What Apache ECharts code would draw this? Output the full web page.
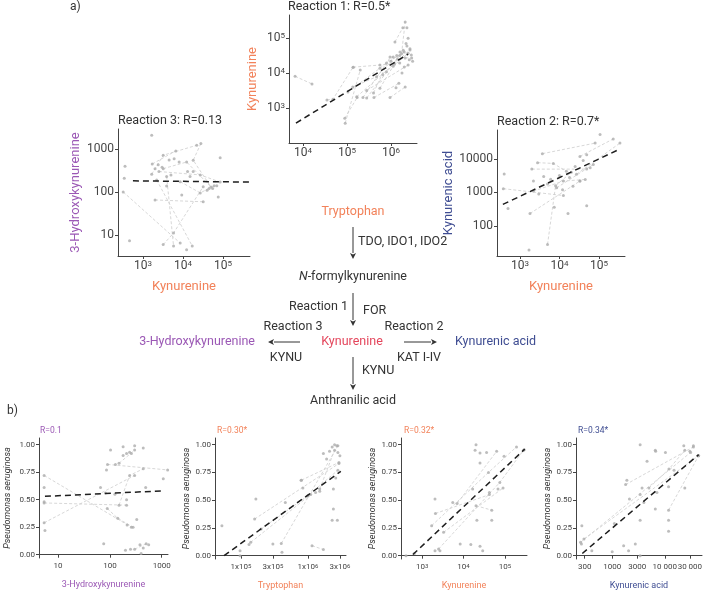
<!DOCTYPE html>
<html>
<head>
<meta charset="utf-8">
<script src="https://cdn.jsdelivr.net/npm/echarts@6/dist/echarts.min.js"></script>
<style>
  html, body { margin: 0; padding: 0; background: #fff; }
  #chart { width: 705px; height: 591px; }
</style>
</head>
<body>
<div id="chart"></div>
<script>
// ---- data (raw concentrations, P. aeruginosa fraction) ----
// Reaction 1: x = tryptophan, y = kynurenine
const r1Links = [
  [[6600, 8100], [16000, 4900]],
  [[91000, 370], [200000, 12300]],
  [[89000, 510], [170000, 2000]],
  [[35000, 1700], [48000, 1800], [138000, 14800]],
  [[135000, 4000], [470000, 7900], [1350000, 32000]],
  [[105000, 2900], [560000, 13800], [1120000, 29000]],
  [[280000, 1950], [1580000, 32000]],
  [[410000, 2000], [1510000, 5100]],
  [[230000, 2000], [790000, 19500], [2000000, 40000]],
  [[950000, 2000], [2100000, 4000]],
  [[1740000, 36000], [2100000, 290000]],
  [[1230000, 78000], [1860000, 200000], [2300000, 200000]],
  [[166000, 2100], [2700000, 46000]],
  [[560000, 3700], [1120000, 15800], [2450000, 37000]],
  [[400000, 2700], [950000, 29000], [2950000, 27000]],
  [[138000, 14800], [560000, 17000], [1580000, 19500]],
  [[280000, 3200], [2450000, 17000]]
];
const r1Dots = [
  [2450000, 100000], [2100000, 27000], [2700000, 50000], [1000000, 22000], [1400000, 25000],
  [790000, 11000], [1780000, 10000], [2300000, 60000], [1900000, 45000], [2900000, 33000],
  [3100000, 22000], [1600000, 40000], [2200000, 70000], [1200000, 18000], [650000, 9000],
  [2600000, 24000], [1300000, 3800], [2000000, 15000]
];
const r1Fit = [[6900, 370], [2450000, 35000]];

// Reaction 3: x = kynurenine, y = 3-hydroxykynurenine
const r3Links = [
  [[320, 100], [8500, 6.4]],
  [[3200, 5.9], [5800, 11], [32000, 133]],
  [[3900, 230], [5800, 5.5]],
  [[2200, 190], [17000, 5.5]],
  [[1650, 260], [3200, 720], [22000, 1230]],
  [[2000, 65], [32000, 59]],
  [[3200, 350], [12300, 500], [55000, 120]],
  [[1700, 450], [6600, 910]],
  [[8500, 174], [27000, 95], [60000, 140]],
  [[28000, 1350], [18000, 550], [50000, 130]],
  [[2500, 300], [27000, 250], [85000, 170]]
];
const r3Dots = [
  [355, 400], [340, 210], [460, 7.3], [1650, 2100], [85000, 630], [76000, 76], [9300, 85],
  [40000, 110], [45000, 120], [70000, 140], [4500, 560], [8000, 500], [2400, 430], [3000, 380],
  [13000, 300], [18000, 300], [5000, 250], [3900, 138], [15000, 230], [12300, 4.5], [6000, 600],
  [2000, 350]
];
const r3Fit = [[560, 182], [470000, 170]];

// Reaction 2: x = kynurenine, y = kynurenic acid
const r2Links = [
  [[3700, 14500], [80000, 30000]],
  [[2000, 5000], [49000, 5000]],
  [[380, 1300], [12600, 810]],
  [[5000, 28], [8000, 1600], [20000, 4000]],
  [[1800, 235], [33000, 2200]],
  [[33000, 12000], [230000, 40000]],
  [[27000, 3500], [340000, 30000]],
  [[2800, 7800], [7000, 7400], [15000, 4300]],
  [[2200, 1100], [12600, 2200], [45000, 2450]],
  [[8500, 1380], [72000, 6900]]
];
const r2Dots = [
  [400, 3600], [500, 330], [1700, 19], [7400, 360], [16500, 235], [49000, 400], [107000, 54000],
  [2200, 2200], [22000, 1550], [49000, 13500], [33000, 2200], [4000, 3000], [6000, 2500],
  [10000, 3200], [18000, 2800], [25000, 6000], [40000, 9000], [3000, 900], [5000, 1800],
  [12000, 1200], [60000, 5500]
];
const r2Fit = [[370, 440], [340000, 20000]];

// b) x = metabolite, y = P. aeruginosa
const b1Links = [
  [[5.4, 0.72], [260, 0.25]],
  [[5.4, 0.29], [300, 0.72]],
  [[5.4, 0.47], [210, 0.45]],
  [[90, 0.82], [1300, 0.77]],
  [[150, 0.45], [240, 0.72], [440, 0.78]],
  [[89, 0.42], [142, 0.33], [280, 0.25]],
  [[300, 0.05], [500, 0.1]],
  [[150, 0.83], [300, 0.95]]
];
const b1Dots = [
  [5.4, 0.61], [5.4, 0.48], [5.6, 0.22], [76, 0.10], [66, 0.61], [82, 0.56], [86, 0.77], [103, 0.95],
  [128, 0.82], [180, 0.98], [180, 0.90], [210, 0.92], [240, 0.93], [260, 0.92], [300, 0.99], [440, 0.97],
  [210, 0.50], [1070, 0.69], [490, 0.61], [215, 0.27], [200, 0.04], [250, 0.05], [380, 0.09],
  [400, 0.01], [440, 0.06], [560, 0.09], [330, 0.32], [125, 0.55]
];
const b1Fit = [[5.6, 0.53], [1050, 0.58]];

const b2Links = [
  [[160000, 0.33], [2900000, 0.83]],
  [[400000, 0.11], [2800000, 0.99]],
  [[140000, 0.12], [1100000, 0.55]],
  [[800000, 0.68], [2900000, 0.84]],
  [[200000, 0.24], [1000000, 0.54], [2800000, 0.77]],
  [[1150000, 0.09], [1700000, 0.055]],
  [[1500000, 0.6], [2500000, 0.95]]
];
const b2Dots = [
  [52000, 0.27], [97000, 0.045], [97000, 0.0], [132000, 0.10], [167000, 0.51], [300000, 0.105],
  [410000, 0.03], [460000, 0.48], [790000, 0.68], [840000, 0.61], [1000000, 0.54], [1300000, 0.57],
  [1500000, 0.58], [1700000, 0.92], [1900000, 0.87], [2100000, 0.94], [2300000, 0.98], [2500000, 1.0],
  [2700000, 0.99], [2800000, 0.93], [3000000, 0.90], [2400000, 0.60], [2400000, 0.42], [2300000, 0.32],
  [2750000, 0.32], [2600000, 0.70]
];
const b2Fit = [[56000, 0.0], [3100000, 0.76]];

const b3Links = [
  [[2100, 0.38], [42000, 0.55]],
  [[1700, 0.27], [40000, 0.75], [190000, 0.98]],
  [[2500, 0.06], [75000, 0.66], [280000, 0.95]],
  [[3300, 0.21], [90000, 0.61]],
  [[7000, 0.47], [63000, 0.94]],
  [[20000, 0.45], [48000, 0.41]]
];
const b3Dots = [
  [410, 0.0], [650, 0.02], [2050, 0.045], [2700, 0.045], [2050, 0.51], [5500, 0.48], [8300, 0.105],
  [15000, 0.10], [20000, 1.0], [19000, 0.95], [25000, 0.925], [25000, 0.835], [16600, 0.60], [21000, 0.32],
  [25000, 0.085], [29000, 0.045], [36000, 0.93], [48000, 0.32], [42000, 0.57], [68000, 0.60],
  [95000, 0.895], [290000, 0.955]
];
const b3Fit = [[600, 0.01], [300000, 0.96]];

const b4Links = [
  [[250, 0.12], [31000, 0.93]],
  [[290, 0.15], [44000, 0.90]],
  [[1800, 0.64], [35000, 0.98]],
  [[11800, 0.41], [44000, 0.90]],
  [[5000, 0.61], [12000, 0.78], [24000, 0.95]]
];
const b4Dots = [
  [265, 0.27], [260, 0.105], [410, 0.045], [1000, 0.035], [1100, 0.29], [1650, 0.09], [2050, 0.045],
  [1900, 0.68], [2130, 0.51], [2750, 0.105], [3400, 0.0], [3400, 1.0], [3400, 0.32], [3400, 0.55],
  [3700, 0.61], [4000, 0.48], [4600, 0.85], [6600, 0.95], [6700, 0.94], [7100, 0.57], [6600, 0.42],
  [10300, 0.93], [11800, 0.32], [11800, 0.22], [11800, 0.62], [15000, 0.77], [23000, 0.99],
  [24000, 0.61], [35000, 0.99], [30000, 0.94]
];
const b4Fit = [[270, 0.02], [44000, 0.91]];

// tick values
const pow3to5 = [1e3, 1e4, 1e5];
const pow4to6 = [1e4, 1e5, 1e6];
const r3YTicks = [10, 100, 1000];
const r2YTicks = [100, 1000, 10000];
const paTicks = [0, 0.25, 0.5, 0.75, 1];
const hkTicks = [10, 100, 1000];
const trpTicks = [1e5, 3e5, 1e6, 3e6];
const kynaTicks = [300, 1000, 3000, 10000, 30000];

// ---- styling ----
const FONT = 'Roboto, "Liberation Sans", sans-serif';
const ORANGE = '#f2825a';
const RED = '#e4465c';
const PURPLE = '#9b58b5';
const BLUE = '#3f4d92';
const TXT = '#333';

const powFmt = v => '10{s|' + Math.round(Math.log10(v)) + '}';
const plainFmt = v => String(v);
const paFmt = v => v.toFixed(2);
const trpFmt = v => {
  const e = Math.floor(Math.log10(v) + 1e-9);
  return Math.round(v / Math.pow(10, e)) + 'x10{s|' + e + '}';
};
const spaceFmt = v => v >= 10000 ? String(v).replace(/(\d)(?=(\d{3})$)/, '$1 ') : String(v);

const panels = [
  { grid: { left: 289, top: 15, width: 128, height: 128 }, fs: 12, sup: 8,
    x: { min: 4800, max: 3900000, ticks: pow4to6, fmt: powFmt },
    y: { type: 'log', min: 100, max: 460000, ticks: pow3to5, fmt: powFmt, name: 'Kynurenine', color: ORANGE, gap: 30 },
    links: r1Links, dots: r1Dots, fit: r1Fit },
  { grid: { left: 118, top: 129, width: 132, height: 127 }, fs: 12, sup: 8,
    x: { min: 237, max: 473000, ticks: pow3to5, fmt: powFmt, name: 'Kynurenine', color: ORANGE, gap: 24 },
    y: { type: 'log', min: 3.2, max: 2950, ticks: r3YTicks, fmt: plainFmt, name: '3-Hydroxykynurenine', color: PURPLE, gap: 36 },
    links: r3Links, dots: r3Dots, fit: r3Fit },
  { grid: { left: 497, top: 130, width: 128, height: 126 }, fs: 12, sup: 8,
    x: { min: 263, max: 457000, ticks: pow3to5, fmt: powFmt, name: 'Kynurenine', color: ORANGE, gap: 24 },
    y: { type: 'log', min: 12.6, max: 74000, ticks: r2YTicks, fmt: plainFmt, name: 'Kynurenic acid', color: BLUE, gap: 39 },
    links: r2Links, dots: r2Dots, fit: r2Fit },
  { grid: { left: 39, top: 438, width: 129, height: 120 }, fs: 8, sup: 6,
    x: { min: 4.3, max: 1320, ticks: hkTicks, fmt: plainFmt, name: '3-Hydroxykynurenine', color: PURPLE, gap: 22 },
    y: { type: 'value', min: -0.03, max: 1.06, ticks: paTicks, fmt: paFmt, name: 'Pseudomonas aeruginosa', color: TXT, gap: 27, italic: true },
    links: b1Links, dots: b1Dots, fit: b1Fit },
  { grid: { left: 215, top: 438, width: 131, height: 121 }, fs: 8, sup: 6,
    x: { min: 41000, max: 3700000, ticks: trpTicks, fmt: trpFmt, name: 'Tryptophan', color: ORANGE, gap: 22 },
    y: { type: 'value', min: -0.03, max: 1.06, ticks: paTicks, fmt: paFmt, name: 'Pseudomonas aeruginosa', color: TXT, gap: 22, italic: true },
    links: b2Links, dots: b2Dots, fit: b2Fit },
  { grid: { left: 401, top: 438, width: 126, height: 121 }, fs: 8, sup: 6,
    x: { min: 310, max: 340000, ticks: pow3to5, fmt: powFmt, name: 'Kynurenine', color: ORANGE, gap: 22 },
    y: { type: 'value', min: -0.03, max: 1.06, ticks: paTicks, fmt: paFmt, name: 'Pseudomonas aeruginosa', color: TXT, gap: 22, italic: true },
    links: b3Links, dots: b3Dots, fit: b3Fit },
  { grid: { left: 576, top: 438, width: 126, height: 121 }, fs: 8, sup: 6,
    x: { min: 205, max: 51000, ticks: kynaTicks, fmt: spaceFmt, name: 'Kynurenic acid', color: BLUE, gap: 22 },
    y: { type: 'value', min: -0.03, max: 1.06, ticks: paTicks, fmt: paFmt, name: 'Pseudomonas aeruginosa', color: TXT, gap: 22, italic: true },
    links: b4Links, dots: b4Dots, fit: b4Fit }
];

const titles = [
  { text: 'Reaction 1: R=0.5*', left: 288, top: 0, fs: 12.5, color: TXT },
  { text: 'Reaction 3: R=0.13', left: 118, top: 114, fs: 12.5, color: TXT },
  { text: 'Reaction 2: R=0.7*', left: 497, top: 115, fs: 12.5, color: TXT },
  { text: 'R=0.1', left: 40, top: 426, fs: 8.5, color: PURPLE },
  { text: 'R=0.30*', left: 217, top: 426, fs: 8.5, color: ORANGE },
  { text: 'R=0.32*', left: 404, top: 426, fs: 8.5, color: ORANGE },
  { text: 'R=0.34*', left: 578, top: 426, fs: 8.5, color: BLUE }
];

function axisOf(a, p, isX) {
  const axis = {
    type: isX ? 'log' : a.type,
    min: a.min, max: a.max,
    axisLine: { show: true, lineStyle: { color: '#444', width: 1 } },
    axisTick: { show: true, length: 3, customValues: a.ticks, lineStyle: { color: '#444' } },
    splitLine: { show: false },
    axisLabel: {
      customValues: a.ticks, formatter: a.fmt, color: '#444', fontSize: p.fs, fontFamily: FONT,
      interval: 0, hideOverlap: false, showMinLabel: true, showMaxLabel: true,
      margin: 4, rich: { s: { fontSize: p.sup, verticalAlign: 'top', color: '#444', fontFamily: FONT } }
    }
  };
  if (a.name) {
    axis.name = a.name;
    axis.nameLocation = 'middle';
    axis.nameGap = a.gap;
    axis.nameTextStyle = { color: a.color, fontSize: p.fs + 1, fontFamily: FONT, fontStyle: a.italic ? 'italic' : 'normal' };
  }
  return axis;
}

const grid = [], xAxis = [], yAxis = [], series = [];
panels.forEach((p, i) => {
  grid.push(Object.assign({ containLabel: false, outerBoundsMode: 'none' }, p.grid));
  const xa = axisOf(p.x, p, true); xa.gridIndex = i; xAxis.push(xa);
  const ya = axisOf(p.y, p, false); ya.gridIndex = i; yAxis.push(ya);
  p.links.forEach(g => series.push({
    type: 'line', xAxisIndex: i, yAxisIndex: i, data: g, symbol: 'none', silent: true, z: 1,
    lineStyle: { color: '#cdcdcd', width: 0.8, type: [3, 2] }
  }));
  series.push({
    type: 'scatter', xAxisIndex: i, yAxisIndex: i, symbolSize: 3, silent: true, z: 2,
    data: p.dots.concat(...p.links), itemStyle: { color: '#acacac' }
  });
  series.push({
    type: 'line', xAxisIndex: i, yAxisIndex: i, data: p.fit, symbol: 'none', silent: true, z: 3,
    lineStyle: { color: '#1e1e1e', width: 1.5, type: [6, 4] }
  });
});

// ---- pathway diagram ----
function label(x, y, text, fill, align, size) {
  return { type: 'text', x: x, y: y, silent: true,
    style: { text: text, fill: fill, font: (size || 12.5) + 'px ' + FONT, align: align, verticalAlign: 'middle',
      rich: { i: { font: 'italic ' + (size || 12.5) + 'px ' + FONT, fill: fill } } } };
}
function arrow(x1, y1, x2, y2) {
  const dx = x2 - x1, dy = y2 - y1, L = Math.hypot(dx, dy), ux = dx / L, uy = dy / L;
  const bx = x2 - ux * 6, by = y2 - uy * 6;
  return [
    { type: 'line', silent: true, shape: { x1: x1, y1: y1, x2: bx, y2: by }, style: { stroke: '#333', lineWidth: 1 } },
    { type: 'polygon', silent: true, shape: { points: [[x2, y2], [bx - uy * 3, by + ux * 3], [bx + ux * 1.5, by + uy * 1.5], [bx + uy * 3, by - ux * 3]] }, style: { fill: '#333' } }
  ];
}
const graphic = [
  label(70, 7, 'a)', TXT, 'left', 12),
  label(7, 411, 'b)', TXT, 'left', 12),
  label(353, 212, 'Tryptophan', ORANGE, 'center'),
  label(358, 242, 'TDO, IDO1, IDO2', TXT, 'left'),
  label(353, 277, '{i|N}-formylkynurenine', TXT, 'center'),
  label(348, 307, 'Reaction 1', TXT, 'right'),
  label(363, 311, 'FOR', TXT, 'left'),
  label(293, 327, 'Reaction 3', TXT, 'center'),
  label(414, 327, 'Reaction 2', TXT, 'center'),
  label(352, 342, 'Kynurenine', RED, 'center'),
  label(255, 342, '3-Hydroxykynurenine', PURPLE, 'right'),
  label(455, 342, 'Kynurenic acid', BLUE, 'left'),
  label(286, 358, 'KYNU', TXT, 'center'),
  label(419, 358, 'KAT I-IV', TXT, 'center'),
  label(362, 371, 'KYNU', TXT, 'left'),
  label(353, 401, 'Anthranilic acid', TXT, 'center')
].concat(
  arrow(353, 227, 353, 259),
  arrow(353, 293, 353, 326),
  arrow(300, 342, 268, 342),
  arrow(404, 342, 437, 342),
  arrow(353, 357, 353, 390)
);

const chart = echarts.init(document.getElementById('chart'), null, { renderer: 'canvas' });
chart.setOption({
  animation: false,
  backgroundColor: '#fff',
  title: titles.map(t => ({ text: t.text, left: t.left, top: t.top, padding: 0,
    textStyle: { fontSize: t.fs, color: t.color, fontWeight: 'normal', fontFamily: FONT } })),
  grid: grid,
  xAxis: xAxis,
  yAxis: yAxis,
  series: series,
  graphic: graphic
});
</script>
</body>
</html>
